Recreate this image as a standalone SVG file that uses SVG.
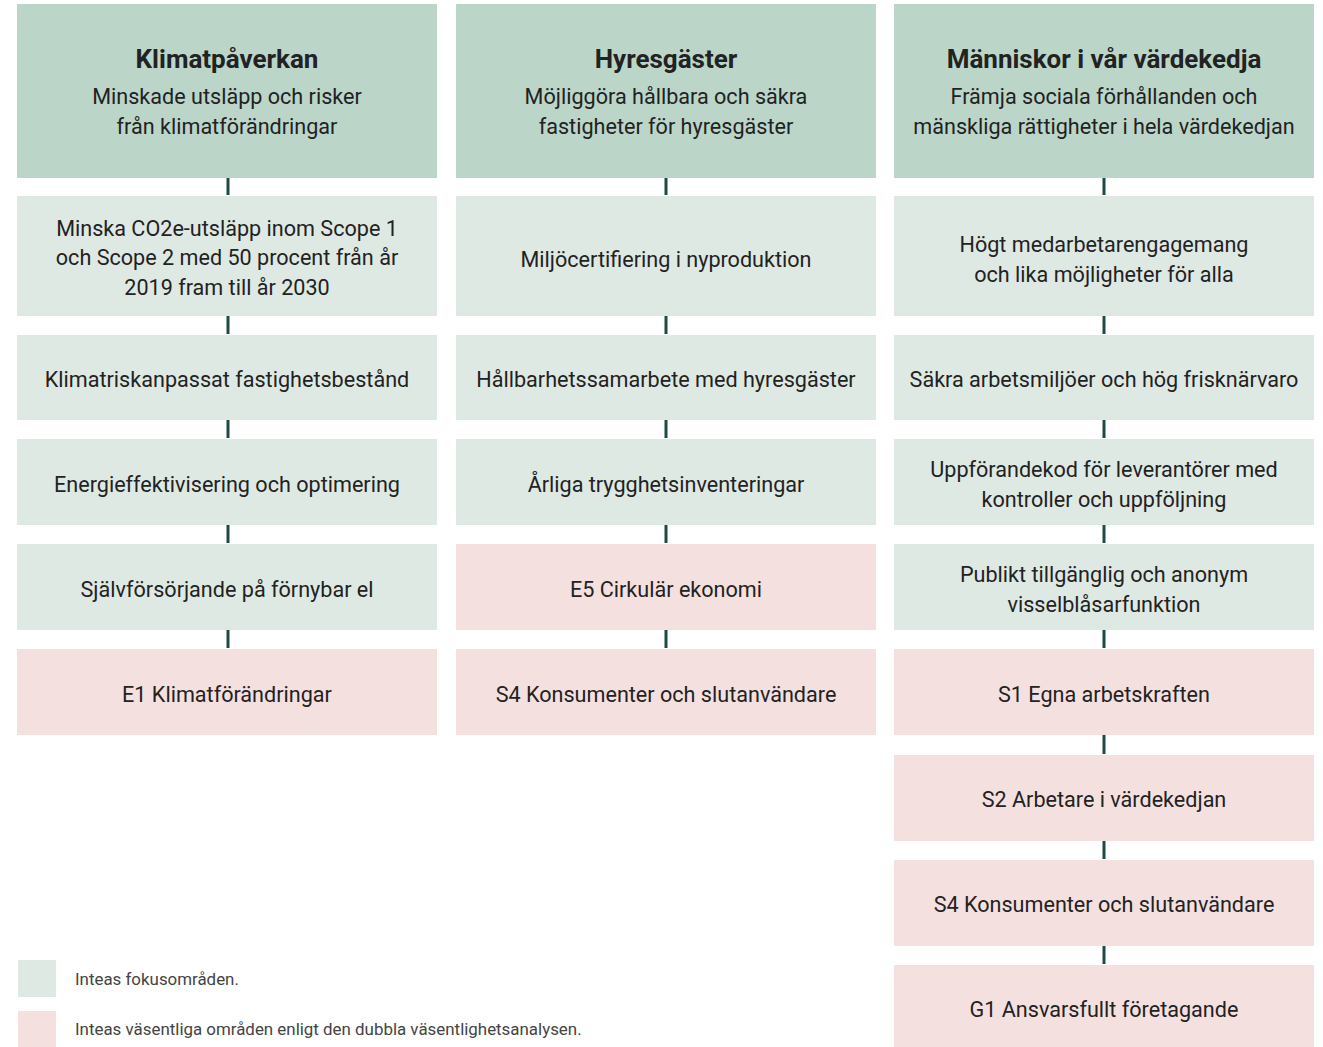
<svg xmlns="http://www.w3.org/2000/svg" width="1323" height="1047" viewBox="0 0 1323 1047">
  <style>
    .hdr { fill: #bbd6c9; }
    .focus { fill: #dfe9e4; }
    .mat { fill: #f5e0e0; }
    text { font-family: Roboto, "Noto Sans", sans-serif; fill: #222; text-anchor: middle; }
    .t { font-size: 26px; font-weight: 700; }
    .s { font-size: 21.6px; }
    .b { font-size: 21.6px; }
    .lg { font-size: 16.9px; fill: #444; text-anchor: start; }
    .conn line { stroke: #1d4a45; stroke-width: 3; }
  </style>

  <!-- Column 1: Klimatpåverkan -->
  <g id="c1-head"><rect class="hdr" x="17" y="4" width="420" height="174"/>
    <text class="t" x="227" y="68">Klimatpåverkan</text>
    <text class="s" x="227" y="104">Minskade utsläpp och risker</text>
    <text class="s" x="227" y="134">från klimatförändringar</text></g>
  <g id="c1-r1"><rect class="focus" x="17" y="196" width="420" height="120"/>
    <text class="b" x="227" y="236">Minska CO2e-utsläpp inom Scope 1</text>
    <text class="b" x="227" y="265">och Scope 2 med 50 procent från år</text>
    <text class="b" x="227" y="295">2019 fram till år 2030</text></g>
  <g id="c1-r2"><rect class="focus" x="17" y="335" width="420" height="85"/>
    <text class="b" x="227" y="387">Klimatriskanpassat fastighetsbestånd</text></g>
  <g id="c1-r3"><rect class="focus" x="17" y="439" width="420" height="86"/>
    <text class="b" x="227" y="492">Energieffektivisering och optimering</text></g>
  <g id="c1-r4"><rect class="focus" x="17" y="544" width="420" height="86"/>
    <text class="b" x="227" y="597">Självförsörjande på förnybar el</text></g>
  <g id="c1-r5"><rect class="mat" x="17" y="649" width="420" height="86"/>
    <text class="b" x="227" y="702">E1 Klimatförändringar</text></g>

  <!-- Column 2: Hyresgäster -->
  <g id="c2-head"><rect class="hdr" x="456" y="4" width="420" height="174"/>
    <text class="t" x="666" y="68">Hyresgäster</text>
    <text class="s" x="666" y="104">Möjliggöra hållbara och säkra</text>
    <text class="s" x="666" y="134">fastigheter för hyresgäster</text></g>
  <g id="c2-r1"><rect class="focus" x="456" y="196" width="420" height="120"/>
    <text class="b" x="666" y="267">Miljöcertifiering i nyproduktion</text></g>
  <g id="c2-r2"><rect class="focus" x="456" y="335" width="420" height="85"/>
    <text class="b" x="666" y="387">Hållbarhetssamarbete med hyresgäster</text></g>
  <g id="c2-r3"><rect class="focus" x="456" y="439" width="420" height="86"/>
    <text class="b" x="666" y="492">Årliga trygghetsinventeringar</text></g>
  <g id="c2-r4"><rect class="mat" x="456" y="544" width="420" height="86"/>
    <text class="b" x="666" y="597">E5 Cirkulär ekonomi</text></g>
  <g id="c2-r5"><rect class="mat" x="456" y="649" width="420" height="86"/>
    <text class="b" x="666" y="702">S4 Konsumenter och slutanvändare</text></g>

  <!-- Column 3: Människor i vår värdekedja -->
  <g id="c3-head"><rect class="hdr" x="894" y="4" width="420" height="174"/>
    <text class="t" x="1104" y="68">Människor i vår värdekedja</text>
    <text class="s" x="1104" y="104">Främja sociala förhållanden och</text>
    <text class="s" x="1104" y="134">mänskliga rättigheter i hela värdekedjan</text></g>
  <g id="c3-r1"><rect class="focus" x="894" y="196" width="420" height="120"/>
    <text class="b" x="1104" y="252">Högt medarbetarengagemang</text>
    <text class="b" x="1104" y="282">och lika möjligheter för alla</text></g>
  <g id="c3-r2"><rect class="focus" x="894" y="335" width="420" height="85"/>
    <text class="b" x="1104" y="387">Säkra arbetsmiljöer och hög frisknärvaro</text></g>
  <g id="c3-r3"><rect class="focus" x="894" y="439" width="420" height="86"/>
    <text class="b" x="1104" y="477">Uppförandekod för leverantörer med</text>
    <text class="b" x="1104" y="507">kontroller och uppföljning</text></g>
  <g id="c3-r4"><rect class="focus" x="894" y="544" width="420" height="86"/>
    <text class="b" x="1104" y="582">Publikt tillgänglig och anonym</text>
    <text class="b" x="1104" y="612">visselblåsarfunktion</text></g>
  <g id="c3-r5"><rect class="mat" x="894" y="649" width="420" height="86"/>
    <text class="b" x="1104" y="702">S1 Egna arbetskraften</text></g>
  <g id="c3-r6"><rect class="mat" x="894" y="755" width="420" height="86"/>
    <text class="b" x="1104" y="807">S2 Arbetare i värdekedjan</text></g>
  <g id="c3-r7"><rect class="mat" x="894" y="860" width="420" height="86"/>
    <text class="b" x="1104" y="912">S4 Konsumenter och slutanvändare</text></g>
  <g id="c3-r8"><rect class="mat" x="894" y="965" width="420" height="86"/>
    <text class="b" x="1104" y="1017">G1 Ansvarsfullt företagande</text></g>

  <!-- Connectors between stacked boxes -->
  <g id="connectors" class="conn">
    <line x1="228" y1="178" x2="228" y2="195"/>
    <line x1="228" y1="316" x2="228" y2="334"/>
    <line x1="228" y1="420" x2="228" y2="438"/>
    <line x1="228" y1="525" x2="228" y2="543"/>
    <line x1="228" y1="630" x2="228" y2="648"/>
    <line x1="666" y1="178" x2="666" y2="195"/>
    <line x1="666" y1="316" x2="666" y2="334"/>
    <line x1="666" y1="420" x2="666" y2="438"/>
    <line x1="666" y1="525" x2="666" y2="543"/>
    <line x1="666" y1="630" x2="666" y2="648"/>
    <line x1="1104" y1="178" x2="1104" y2="195"/>
    <line x1="1104" y1="316" x2="1104" y2="334"/>
    <line x1="1104" y1="420" x2="1104" y2="438"/>
    <line x1="1104" y1="525" x2="1104" y2="543"/>
    <line x1="1104" y1="630" x2="1104" y2="648"/>
    <line x1="1104" y1="735" x2="1104" y2="754"/>
    <line x1="1104" y1="841" x2="1104" y2="859"/>
    <line x1="1104" y1="946" x2="1104" y2="964"/>
  </g>

  <!-- Legend -->
  <g id="legend">
    <rect class="focus" x="18" y="960" width="38" height="37"/>
    <text class="lg" x="75" y="985">Inteas fokusområden.</text>
    <rect class="mat" x="18" y="1011" width="38" height="36"/>
    <text class="lg" x="75" y="1035">Inteas väsentliga områden enligt den dubbla väsentlighetsanalysen.</text>
  </g>
</svg>
